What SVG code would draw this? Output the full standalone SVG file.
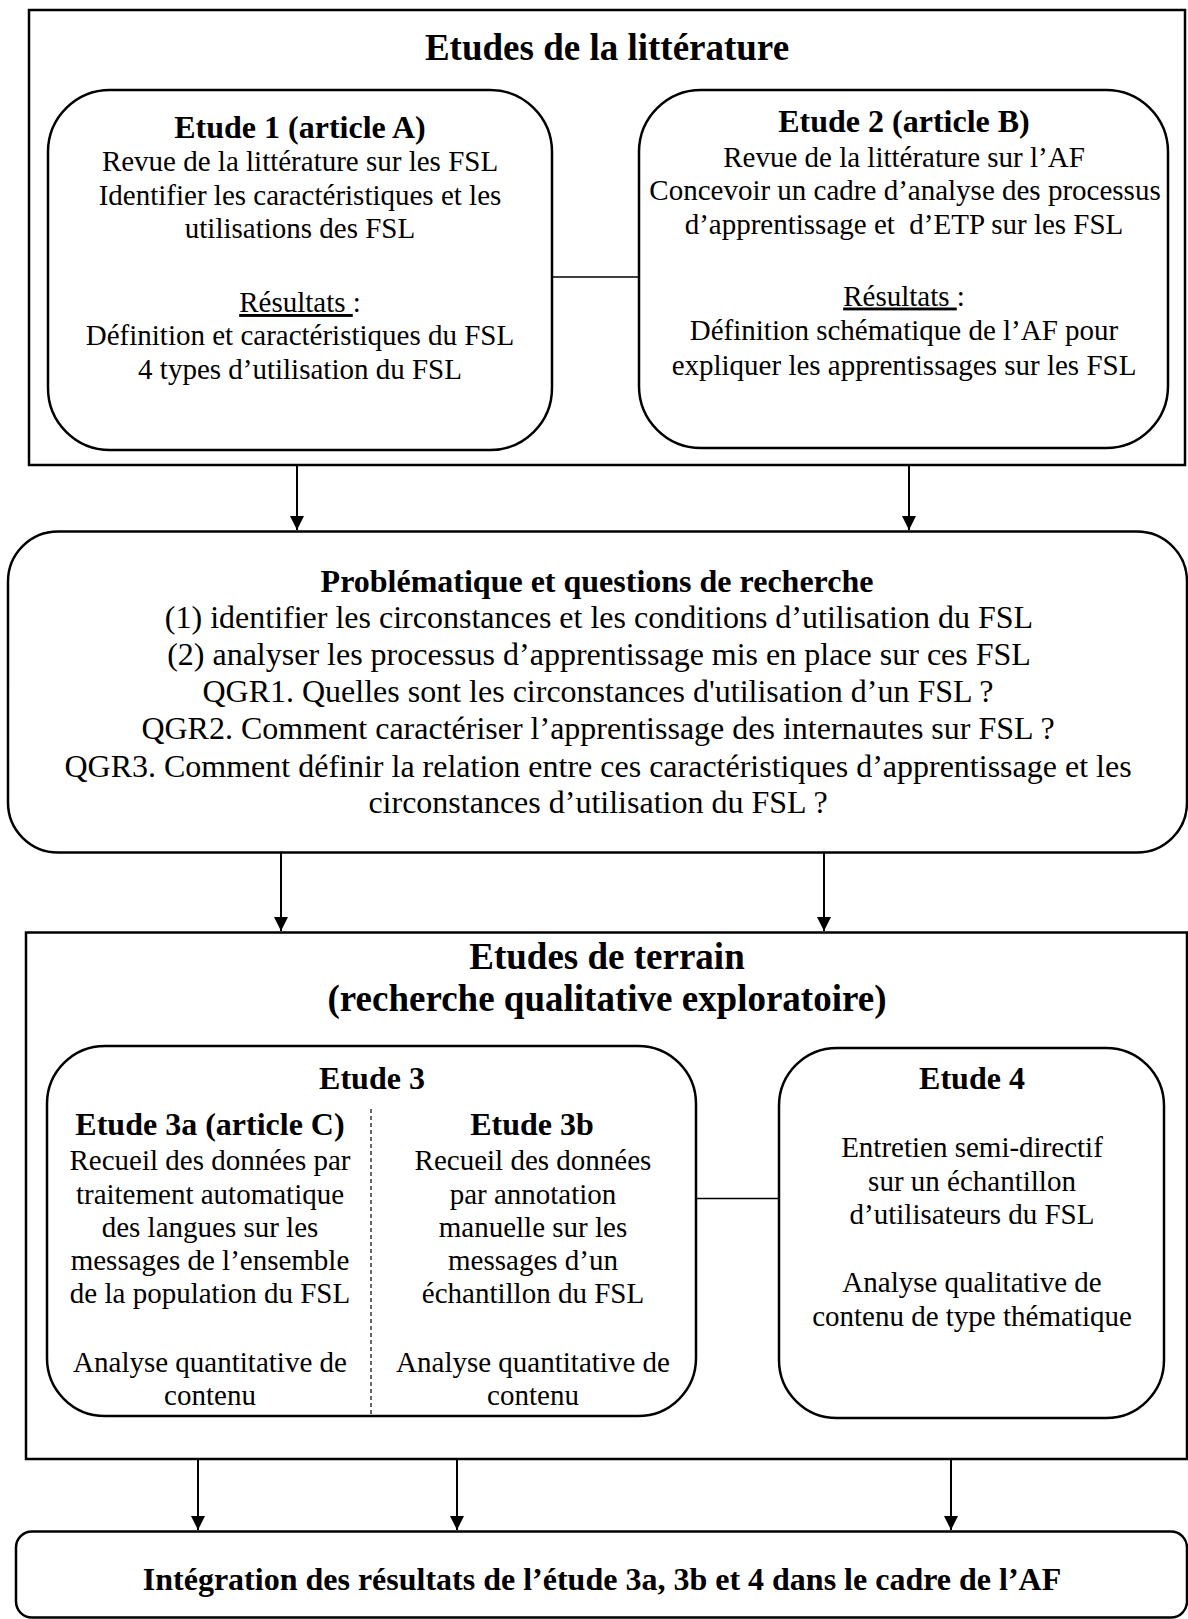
<svg xmlns="http://www.w3.org/2000/svg" width="1188" height="1619" viewBox="0 0 1188 1619">
<style>
  text { font-family: "Liberation Serif", "Times New Roman", serif; fill: #000; text-anchor: middle; }
  .big { font-size: 37px; font-weight: bold; }
  .h { font-size: 32px; font-weight: bold; }
  .t { font-size: 29px; }
  .p { font-size: 32px; }
  .frame { fill: #fff; stroke: #000; stroke-width: 2.5; }
  .rbox { fill: none; stroke: #000; stroke-width: 2.5; }
  .link { stroke: #000; stroke-width: 1.3; fill: none; }
  .arrow { stroke: #000; stroke-width: 2; fill: none; marker-end: url(#ah); }
  .dash { stroke: #000; stroke-width: 1.2; stroke-dasharray: 4 3; fill: none; }
  .u { text-decoration: underline; }
</style>
<defs>
  <marker id="ah" viewBox="0 0 14 14" refX="14" refY="7" markerWidth="14" markerHeight="14" markerUnits="userSpaceOnUse" orient="auto">
    <path d="M0,0 L14,7 L0,14 z" fill="#000"/>
  </marker>
</defs>
<rect width="1188" height="1619" fill="#fff"/>

<g id="litterature">
  <rect class="frame" x="29" y="10" width="1156" height="455"/>
  <text class="big" x="607" y="60">Etudes de la littérature</text>
</g>

<g id="etude1">
  <rect class="rbox" x="48" y="90" width="504" height="360" rx="62" ry="62"/>
  <text class="h" x="300" y="138">Etude 1 (article A)</text>
  <text class="t" x="300" y="171">Revue de la littérature sur les FSL</text>
  <text class="t" x="300" y="204.5">Identifier les caractéristiques et les</text>
  <text class="t" x="300" y="238">utilisations des FSL</text>
  <text class="t" x="300" y="312"><tspan class="u">Résultats </tspan>:</text>
  <text class="t" x="300" y="345">Définition et caractéristiques du FSL</text>
  <text class="t" x="300" y="379">4 types d’utilisation du FSL</text>
</g>

<g id="etude2">
  <rect class="rbox" x="639" y="90" width="529" height="358" rx="62" ry="62"/>
  <text class="h" x="904" y="132">Etude 2 (article B)</text>
  <text class="t" x="904" y="167">Revue de la littérature sur l’AF</text>
  <text class="t" x="905" y="200">Concevoir un cadre d’analyse des processus</text>
  <text class="t" x="904" y="233.5">d’apprentissage et&#160; d’ETP sur les FSL</text>
  <text class="t" x="904" y="305.5"><tspan class="u">Résultats </tspan>:</text>
  <text class="t" x="904" y="340">Définition schématique de l’AF pour</text>
  <text class="t" x="904" y="375">expliquer les apprentissages sur les FSL</text>
</g>

<g id="problematique">
  <rect class="rbox" x="8" y="531.5" width="1179" height="321" rx="50" ry="50"/>
  <text class="h" x="597" y="591.5">Problématique et questions de recherche</text>
  <text class="p" x="599" y="628">(1) identifier les circonstances et les conditions d’utilisation du FSL</text>
  <text class="p" x="599" y="665">(2) analyser les processus d’apprentissage mis en place sur ces FSL</text>
  <text class="p" x="598" y="701.5">QGR1. Quelles sont les circonstances d'utilisation d’un FSL ?</text>
  <text class="p" x="598" y="738.5">QGR2. Comment caractériser l’apprentissage des internautes sur FSL ?</text>
  <text class="p" x="598" y="776.5">QGR3. Comment définir la relation entre ces caractéristiques d’apprentissage et les</text>
  <text class="p" x="598" y="813">circonstances d’utilisation du FSL ?</text>
</g>

<g id="terrain">
  <rect class="frame" x="26" y="932.5" width="1161" height="526.5"/>
  <text class="big" x="607" y="969">Etudes de terrain</text>
  <text class="big" x="607" y="1011">(recherche qualitative exploratoire)</text>
</g>

<g id="etude3">
  <rect class="rbox" x="47" y="1046" width="649" height="370" rx="58" ry="58"/>
  <text class="h" x="372" y="1089">Etude 3</text>
  <line class="dash" x1="371" y1="1109" x2="371" y2="1416"/>
</g>

<g id="etude3a">
  <text class="h" x="210" y="1135">Etude 3a (article C)</text>
  <text class="t" x="210" y="1170">Recueil des données par</text>
  <text class="t" x="210" y="1203.5">traitement automatique</text>
  <text class="t" x="210" y="1237">des langues sur les</text>
  <text class="t" x="210" y="1270">messages de l’ensemble</text>
  <text class="t" x="210" y="1303">de la population du FSL</text>
  <text class="t" x="210" y="1372">Analyse quantitative de</text>
  <text class="t" x="210" y="1405">contenu</text>
</g>

<g id="etude3b">
  <text class="h" x="532" y="1135">Etude 3b</text>
  <text class="t" x="533" y="1170">Recueil des données</text>
  <text class="t" x="533" y="1203.5">par annotation</text>
  <text class="t" x="533" y="1237">manuelle sur les</text>
  <text class="t" x="533" y="1270">messages d’un</text>
  <text class="t" x="533" y="1303">échantillon du FSL</text>
  <text class="t" x="533" y="1372">Analyse quantitative de</text>
  <text class="t" x="533" y="1405">contenu</text>
</g>

<g id="etude4">
  <rect class="rbox" x="779" y="1048" width="385" height="370" rx="58" ry="58"/>
  <text class="h" x="972" y="1089">Etude 4</text>
  <text class="t" x="972" y="1157">Entretien semi-directif</text>
  <text class="t" x="972" y="1190.5">sur un échantillon</text>
  <text class="t" x="972" y="1224">d’utilisateurs du FSL</text>
  <text class="t" x="972" y="1292">Analyse qualitative de</text>
  <text class="t" x="972" y="1325.5">contenu de type thématique</text>
</g>

<g id="integration">
  <rect class="rbox" x="16" y="1531.5" width="1171" height="86" rx="16" ry="16"/>
  <text class="h" x="602" y="1590">Intégration des résultats de l’étude 3a, 3b et 4 dans le cadre de l’AF</text>
</g>

<g id="connectors">
  <line class="link" x1="552" y1="277" x2="639" y2="277"/>
  <line class="link" x1="696" y1="1198.5" x2="779" y2="1198.5"/>
  <line class="arrow" x1="297" y1="466" x2="297" y2="530"/>
  <line class="arrow" x1="909" y1="466" x2="909" y2="530"/>
  <line class="arrow" x1="281" y1="853" x2="281" y2="931"/>
  <line class="arrow" x1="824" y1="853" x2="824" y2="931"/>
  <line class="arrow" x1="198" y1="1460" x2="198" y2="1530"/>
  <line class="arrow" x1="457" y1="1460" x2="457" y2="1530"/>
  <line class="arrow" x1="951" y1="1460" x2="951" y2="1530"/>
</g>
</svg>
